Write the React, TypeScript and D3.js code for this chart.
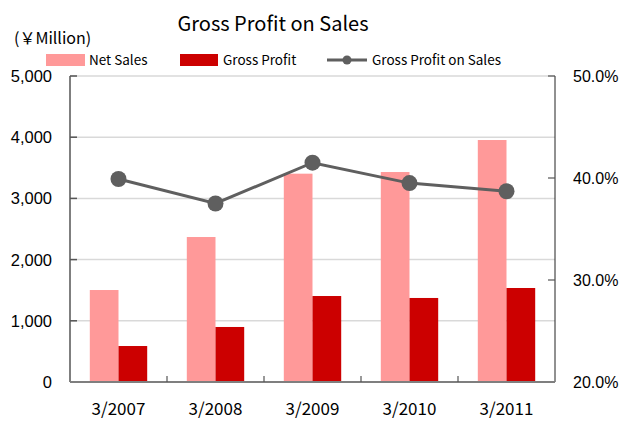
import React from "react";
import * as d3 from "d3";

const categories = ["3/2007", "3/2008", "3/2009", "3/2010", "3/2011"];
const netSales = [1503, 2369, 3404, 3431, 3954];
const grossProfit = [588, 899, 1405, 1373, 1536];
const grossMargin = [39.9, 37.5, 41.5, 39.5, 38.7];
const leftTicks = [0, 1000, 2000, 3000, 4000, 5000];
const rightTicks = [20, 30, 40, 50];

const W = 619;
const H = 421;
const M = { left: 70, right: 555, top: 76, bottom: 382 };

const jp = "'Noto Sans CJK JP', 'Noto Sans', sans-serif";
const num = "'Liberation Sans', Arial, sans-serif";

export default function App() {
  const x = d3.scaleBand<string>().domain(categories).range([M.left, M.right]).padding(0);
  const yL = d3.scaleLinear().domain([0, 5000]).range([M.bottom, M.top]);
  const yR = d3.scaleLinear().domain([20, 50]).range([M.bottom, M.top]);
  const inner = d3.scaleBand<string>().domain(["ns", "gp"]).range([0, x.bandwidth()]).paddingInner(0).paddingOuter(0.69);
  const bw = inner.bandwidth();
  const line = d3
    .line<number>()
    .x((_, i) => (x(categories[i]) as number) + x.bandwidth() / 2)
    .y((d) => yR(d));
  const fmt = d3.format(",");

  return (
    <div style={{ position: "absolute", left: 0, top: 0 }}>
      <svg width={W} height={H} style={{ display: "block", background: "#fff" }}>
        {/* gridlines */}
        {leftTicks.slice(1).map((t) => (
          <line key={"g" + t} x1={M.left} x2={M.right} y1={yL(t)} y2={yL(t)} stroke="#d9d9d9" strokeWidth={1.5} />
        ))}
        {/* bars */}
        {categories.map((c, i) => (
          <g key={c}>
            <rect x={(x(c) as number) + (inner("ns") as number)} y={yL(netSales[i])} width={bw} height={yL(0) - yL(netSales[i])} fill="#ff9999" />
            <rect x={(x(c) as number) + (inner("gp") as number)} y={yL(grossProfit[i])} width={bw} height={yL(0) - yL(grossProfit[i])} fill="#cc0000" />
          </g>
        ))}
        {/* left axis */}
        <line x1={M.left} x2={M.left} y1={M.top} y2={M.bottom} stroke="#7f7f7f" strokeWidth={2} />
        {leftTicks.map((t) => (
          <g key={"l" + t}>
            <line x1={M.left} x2={M.left + 7} y1={yL(t)} y2={yL(t)} stroke="#555" strokeWidth={1.5} />
            <text x={52} y={yL(t)} dy="0.36em" textAnchor="end" fontFamily={num} fontSize={16.5} fill="#000">
              {fmt(t)}
            </text>
          </g>
        ))}
        {/* right axis */}
        <line x1={M.right} x2={M.right} y1={M.top} y2={M.bottom} stroke="#222" strokeWidth={1} />
        {rightTicks.map((t) => (
          <g key={"r" + t}>
            <line x1={M.right - 7} x2={M.right} y1={yR(t)} y2={yR(t)} stroke="#555" strokeWidth={1.2} />
            <text x={573} y={yR(t)} dy="0.36em" textAnchor="start" fontFamily={num} fontSize={16} fill="#000">
              {t.toFixed(1) + "%"}
            </text>
          </g>
        ))}
        {/* bottom axis */}
        <line x1={M.left} x2={M.right} y1={M.bottom} y2={M.bottom} stroke="#7f7f7f" strokeWidth={2} />
        {categories.map((c, i) => (
          <g key={"x" + c}>
            {i > 0 && <line x1={x(c) as number} x2={x(c) as number} y1={M.bottom - 6} y2={M.bottom} stroke="#555" strokeWidth={1.2} />}
            <text x={(x(c) as number) + x.bandwidth() / 2} y={409} dy="0.36em" textAnchor="middle" fontFamily={jp} fontSize={17} fill="#000">
              {c}
            </text>
          </g>
        ))}
        {/* line */}
        <path d={line(grossMargin) as string} fill="none" stroke="#5f5f5f" strokeWidth={3} />
        {grossMargin.map((v, i) => (
          <circle key={"p" + i} cx={(x(categories[i]) as number) + x.bandwidth() / 2} cy={yR(v)} r={8} fill="#5f5f5f" />
        ))}
        {/* title */}
        <text x={273} y={24} dy="0.36em" textAnchor="middle" fontFamily={jp} fontSize={20} fill="#000">
          Gross Profit on Sales
        </text>
        <text x={14} y={38} dy="0.36em" fontFamily={jp} fontSize={16} fill="#000">
          (￥Million)
        </text>
        {/* legend */}
        <rect x={46} y={54} width={39} height={12} fill="#ff9999" />
        <text x={89} y={60} dy="0.36em" fontFamily={jp} fontSize={13.5} fill="#000">Net Sales</text>
        <rect x={180} y={54} width={38} height={12} fill="#cc0000" />
        <text x={223} y={60} dy="0.36em" fontFamily={jp} fontSize={13.5} fill="#000">Gross Profit</text>
        <line x1={327} x2={367} y1={60} y2={60} stroke="#5f5f5f" strokeWidth={3} />
        <circle cx={347} cy={60} r={4.5} fill="#5f5f5f" />
        <text x={372} y={60} dy="0.36em" fontFamily={jp} fontSize={13.5} fill="#000">Gross Profit on Sales</text>
      </svg>
    </div>
  );
}
